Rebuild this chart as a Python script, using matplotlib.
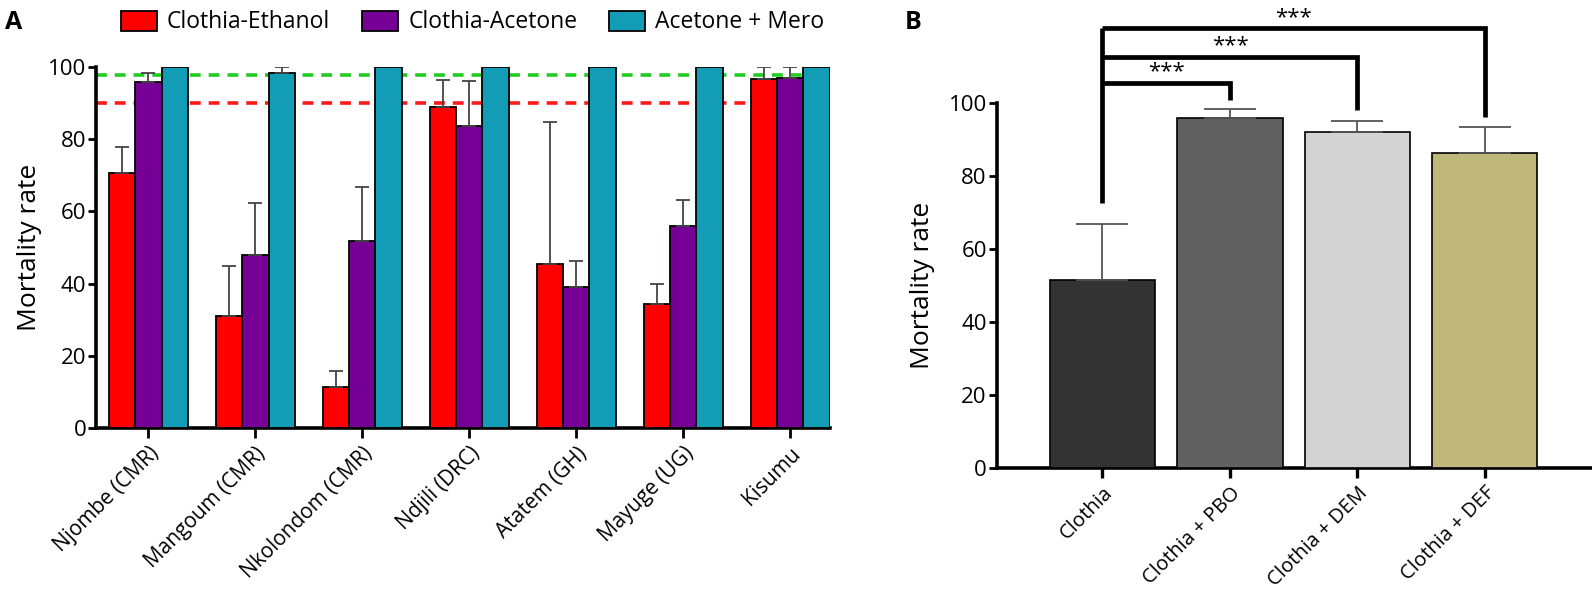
import numpy as np
import matplotlib
matplotlib.use("Agg")
import matplotlib.pyplot as plt
from matplotlib.patches import Patch
from matplotlib.transforms import ScaledTranslation

plt.rcParams['font.family'] = ['Open Sans', 'DejaVu Sans']

# panel A data
sites = ['Njombe (CMR)', 'Mangoum (CMR)', 'Nkolondom (CMR)', 'Ndjili (DRC)',
         'Atatem (GH)', 'Mayuge (UG)', 'Kisumu']
series_names = ['Clothia-Ethanol', 'Clothia-Acetone', 'Acetone + Mero']
ethanol = [70.8, 31.0, 11.2, 89.1, 45.3, 34.2, 96.7]
ethanol_err = [7.0, 13.8, 4.6, 7.4, 39.5, 5.6, 3.3]
acetone = [95.8, 47.8, 51.8, 83.7, 39.1, 56.1, 96.9]
acetone_err = [2.7, 14.6, 15.1, 12.6, 7.2, 7.0, 3.1]
mero = [100, 98.3, 100, 100, 100, 100, 100]
mero_err = [0, 1.7, 0, 0, 0, 0, 0]
thresholds = [98, 90]

# panel B data
treatments = ['Clothia', 'Clothia + PBO', 'Clothia + DEM', 'Clothia + DEF']
mort_b = [51.5, 96.0, 92.1, 86.3]
err_b = [15.4, 2.5, 3.2, 7.2]
stars = ['***', '***', '***']

colors_a = ['#ff0000', '#760096', '#129cb6']
colors_b = ['#333333', '#616161', '#d3d3d3', '#c0b77b']

fig = plt.figure(figsize=(15.92, 5.9), dpi=100)
shift = ScaledTranslation(0.06, 0.0, fig.dpi_scale_trans)

# ---------- panel A ----------
axA = fig.add_axes([0.0603, 0.2751, 0.461, 0.6108])
x = np.arange(len(sites))
w = 0.245
vals = [ethanol, acetone, mero]
errs = [ethanol_err, acetone_err, mero_err]
for i in range(3):
    axA.bar(x + (i - 1) * w, vals[i], w, color=colors_a[i], edgecolor='black',
            linewidth=1.3, zorder=3, label=series_names[i])
    e = np.array(errs[i])
    m = e > 0
    axA.errorbar((x + (i - 1) * w)[m], np.array(vals[i])[m],
                 yerr=[np.zeros(m.sum()), e[m]], fmt='none', ecolor='#444444',
                 elinewidth=1.3, capsize=4.8, capthick=1.3, zorder=4)

axA.axhline(thresholds[0], color='#22cc22', ls=(0, (3, 2.2)), lw=2.6, zorder=1)
axA.axhline(thresholds[1], color='#ff1a1a', ls=(0, (3, 2.2)), lw=2.6, zorder=1)

axA.set_xlim(-0.49, 6.37)
axA.set_ylim(0, 100)
axA.set_yticks([0, 20, 40, 60, 80, 100])
axA.set_xticks(x)
axA.set_xticklabels(sites, rotation=45, ha='right', rotation_mode='anchor',
                    fontsize=15)
for lab in axA.get_xticklabels():
    lab.set_transform(lab.get_transform() + shift)
axA.tick_params(axis='y', labelsize=16, width=2, length=6, pad=1)
axA.tick_params(axis='x', width=2, length=7, pad=4)
for s in ['top', 'right']:
    axA.spines[s].set_visible(False)
for s in ['left', 'bottom']:
    axA.spines[s].set_linewidth(2.6)
axA.set_ylabel('Mortality rate', fontsize=19, labelpad=4)

handles = [Patch(facecolor=c, edgecolor='black', linewidth=1.3) for c in colors_a]
fig.legend(handles, series_names, loc='center', bbox_to_anchor=(0.297, 0.962),
           ncol=3, frameon=False, fontsize=16.5, handlelength=1.55,
           handleheight=0.97, columnspacing=1.4, handletextpad=0.45)

fig.text(0.003, 0.962, 'A', fontsize=18, fontweight='bold', va='center')

# ---------- panel B ----------
axB = fig.add_axes([0.626, 0.2073, 0.374, 0.6173])
xb = np.arange(len(treatments))
axB.bar(xb, mort_b, 0.825, color=colors_b, edgecolor='black', linewidth=1.2, zorder=3)
axB.errorbar(xb, mort_b, yerr=[np.zeros(len(xb)), err_b], fmt='none',
             ecolor='#555555', elinewidth=1.3, capsize=19, capthick=1.3, zorder=4)
axB.set_xlim(-0.83, 3.84)
axB.set_ylim(0, 100)
axB.set_yticks([0, 20, 40, 60, 80, 100])
axB.set_xticks(xb)
axB.set_xticklabels(treatments, rotation=45, ha='right', rotation_mode='anchor',
                    fontsize=14.5)
for lab in axB.get_xticklabels():
    lab.set_transform(lab.get_transform() + shift)
axB.tick_params(axis='y', labelsize=16, width=2, length=6, pad=1)
axB.tick_params(axis='x', width=2.4, length=7, pad=4)
for s in ['top', 'right']:
    axB.spines[s].set_visible(False)
for s in ['left', 'bottom']:
    axB.spines[s].set_linewidth(2.6)
axB.set_ylabel('Mortality rate', fontsize=19, labelpad=10)

# significance brackets from Clothia
levels = [105.7, 112.8, 120.6]
drops = [101.0, 98.2, 96.4]
axB.plot([0, 0], [72.6, levels[-1]], color='black', lw=3.4,
         solid_capstyle='butt', clip_on=False, zorder=5)
for j in range(3):
    axB.plot([0, j + 1, j + 1], [levels[j], levels[j], drops[j]], color='black',
             lw=3.4, solid_joinstyle='miter', solid_capstyle='butt',
             clip_on=False, zorder=5)
    axB.text((j + 1) / 2, levels[j] + 3.0, stars[j], ha='center', va='center',
             fontsize=16, clip_on=False)

fig.text(0.568, 0.962, 'B', fontsize=18, fontweight='bold', va='center')

fig.savefig('out.png', dpi=100)
